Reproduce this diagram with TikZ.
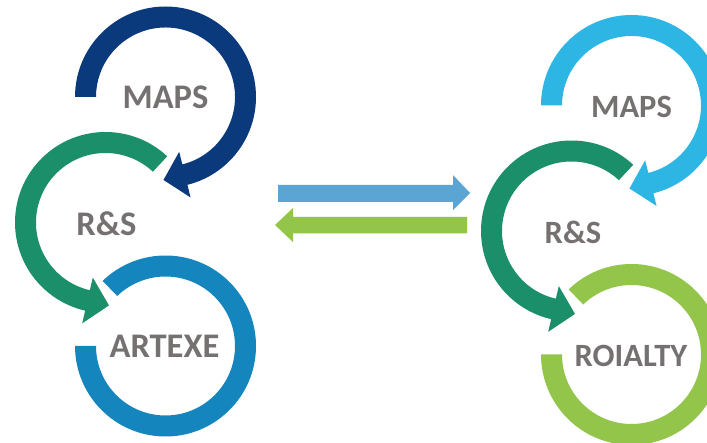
\documentclass[tikz,border=0pt]{standalone}
\usepackage{fontspec}
\setmainfont{Carlito}
\usetikzlibrary{calc}

\definecolor{navyring}{HTML}{0B3A7C}
\definecolor{tealring}{HTML}{1A8F6A}
\definecolor{bluering}{HTML}{1485BD}
\definecolor{skyring}{HTML}{2DB6E3}
\definecolor{limering}{HTML}{92C54A}
\definecolor{arrowblue}{HTML}{5AA5D3}
\definecolor{arrowlime}{HTML}{92C54A}
\definecolor{labelgray}{HTML}{767171}

% ring segment ending in an arrow head:
% #1 colour, #2 centre, #3 start angle, #4 end angle, #5 angle of the tip
\newcommand{\ringwithhead}[5]{%
  \fill[#1] ($(#2)+(#3:90.5pt)$) arc[start angle=#3, end angle=#4, radius=90.5pt]
    -- ($(#2)+(#4:103.5pt)$) -- ($(#2)+(#5:83pt)$) -- ($(#2)+(#4:56.5pt)$)
    -- ($(#2)+(#4:69.5pt)$) arc[start angle=#4, end angle=#3, radius=69.5pt] -- cycle;}
% plain ring segment: #1 colour, #2 centre, #3 start angle, #4 end angle
\newcommand{\ringplain}[4]{%
  \fill[#1] ($(#2)+(#3:90.5pt)$) arc[start angle=#3, end angle=#4, radius=90.5pt]
    -- ($(#2)+(#4:69.5pt)$) arc[start angle=#4, end angle=#3, radius=69.5pt] -- cycle;}

\tikzset{
  ringlabel/.style={font=\bfseries\fontsize{34.5}{40}\selectfont, text=labelgray, inner sep=0pt, anchor=center},
  ringlabelsmall/.style={ringlabel, font=\bfseries\fontsize{32.5}{38}\selectfont}
}

\begin{document}
\begin{tikzpicture}[x=1pt, y=1pt]
  \clip (0,0) rectangle (707,442);
  \fill[white] (0,0) rectangle (707,442);

  % ring centres
  \coordinate (c1) at (165.5,345);
  \coordinate (c2) at (105.5,219.5);
  \coordinate (c3) at (165.5,96);
  \coordinate (c4) at (631.5,336.5);
  \coordinate (c5) at (571.5,211);
  \coordinate (c6) at (631.5,87.5);

  % left cycle
  \ringwithhead{navyring}{c1}{180}{-76}{-91.4}
  \ringwithhead{tealring}{c2}{47}{257}{272.4}
  \ringplain{bluering}{c3}{134}{-180}

  % right cycle
  \ringwithhead{skyring}{c4}{180}{-76}{-91.4}
  \ringwithhead{tealring}{c5}{47}{257}{272.4}
  \ringplain{limering}{c6}{134}{-180}

  % labels
  \node[ringlabel] (maps1) at (165.5,345) {MAPS};
  \node[ringlabel] (rs1) at (106.5,218.5) {R\&S};
  \node[ringlabel] (art) at (164.5,95.5) {ARTEXE};
  \node[ringlabelsmall] (maps2) at (631.5,335) {MAPS};
  \node[ringlabelsmall] (rs2) at (573,210) {R\&S};
  \node[ringlabelsmall] (roi) at (631,86.5) {ROIALTY};

  % exchange arrows between the two cycles
  \fill[arrowblue] (278,257) -- (453,257) -- (453,267) -- (470,249)
    -- (453,232) -- (453,240) -- (278,240) -- cycle;
  \fill[arrowlime] (467,225) -- (293,225) -- (293,234) -- (275,217)
    -- (293,200) -- (293,208.5) -- (467,208.5) -- cycle;
\end{tikzpicture}
\end{document}
